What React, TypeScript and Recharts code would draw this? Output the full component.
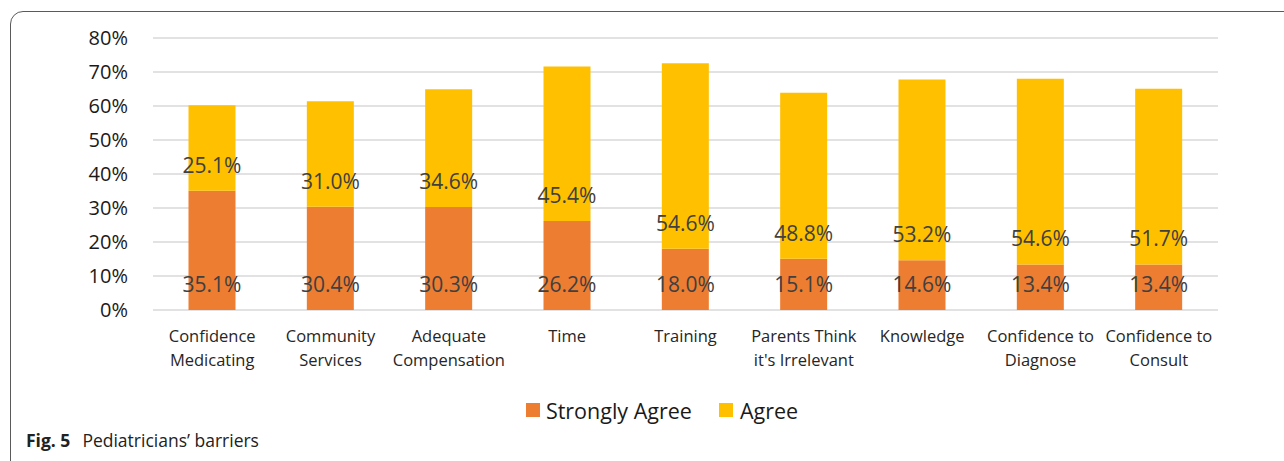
import { BarChart, Bar, XAxis, YAxis, CartesianGrid, Legend, LabelList } from "recharts";

const categories = [
  "Confidence\nMedicating",
  "Community\nServices",
  "Adequate\nCompensation",
  "Time",
  "Training",
  "Parents Think\nit's Irrelevant",
  "Knowledge",
  "Confidence to\nDiagnose",
  "Confidence to\nConsult",
];
const stronglyAgree = [35.1, 30.4, 30.3, 26.2, 18.0, 15.1, 14.6, 13.4, 13.4];
const agree = [25.1, 31.0, 34.6, 45.4, 54.6, 48.8, 53.2, 54.6, 51.7];
const yTicks = [0, 10, 20, 30, 40, 50, 60, 70, 80];

const data = categories.map((name, i) => ({
  name,
  stronglyAgree: stronglyAgree[i],
  agree: agree[i],
}));

const ORANGE = "#ED7D31";
const GOLD = "#FFC000";
const FONT = "'Open Sans', sans-serif";

const CategoryTick = (props: any) => {
  const { x, y, payload } = props;
  const lines = String(payload.value).split("\n");
  return (
    <g transform={`translate(${x},${y})`}>
      {lines.map((line, i) => (
        <text
          key={i}
          x={0}
          y={24 + i * 24}
          textAnchor="middle"
          fill="#262626"
          fontSize={16.5}
          fontFamily={FONT}
        >
          {line}
        </text>
      ))}
    </g>
  );
};

// legend centred a little right of the plot, as in the source figure
const LegendContent = () => (
  <div
    style={{
      height: 30,
      display: "flex",
      justifyContent: "center",
      alignItems: "center",
      fontFamily: FONT,
      fontSize: 21.5,
      color: "#1a1a1a",
      paddingLeft: 106,
    }}
  >
    <span style={{ width: 14, height: 14, background: ORANGE, marginRight: 6 }} />
    <span style={{ marginRight: 27 }}>Strongly Agree</span>
    <span style={{ width: 14, height: 14, background: GOLD, marginRight: 7 }} />
    <span>Agree</span>
  </div>
);

export default function App() {
  return (
    <div
      style={{
        position: "fixed",
        top: 0,
        left: 0,
        width: 1284,
        height: 461,
        overflow: "hidden",
        background: "#fff",
      }}
    >
      <div
        style={{
          position: "absolute",
          left: 10,
          top: 11,
          width: 1320,
          height: 520,
          border: "1.5px solid #5a5a5a",
          borderTopLeftRadius: 13,
        }}
      />
      <div style={{ position: "absolute", left: 0, top: 0 }}>
        <BarChart
          width={1284}
          height={461}
          data={data}
          margin={{ top: 38, right: 66, bottom: 36, left: 0 }}
          barCategoryGap="30%"
        >
          <CartesianGrid vertical={false} stroke="#d9d9d9" strokeWidth={1.5} />
          <XAxis
            dataKey="name"
            axisLine={false}
            tickLine={false}
            height={85}
            interval={0}
            tick={<CategoryTick />}
          />
          <YAxis
            width={153}
            domain={[0, 80]}
            ticks={yTicks}
            axisLine={false}
            tickLine={false}
            tickMargin={19}
            tickFormatter={(v: number) => `${v}%`}
            tick={{ fill: "#1a1a1a", fontSize: 20, fontFamily: FONT }}
          />
          <Legend verticalAlign="bottom" content={<LegendContent />} />
          <Bar dataKey="stronglyAgree" name="Strongly Agree" stackId="a" fill={ORANGE} isAnimationActive={false}>
            <LabelList
              dataKey="stronglyAgree"
              position="insideBottom"
              offset={18}
              formatter={(v: any) => `${Number(v).toFixed(1)}%`}
              fill="#404040"
              fontSize={21}
              fontFamily={FONT}
            />
          </Bar>
          <Bar dataKey="agree" name="Agree" stackId="a" fill={GOLD} isAnimationActive={false}>
            <LabelList
              dataKey="agree"
              position="insideBottom"
              offset={18}
              formatter={(v: any) => `${Number(v).toFixed(1)}%`}
              fill="#404040"
              fontSize={21}
              fontFamily={FONT}
            />
          </Bar>
        </BarChart>
      </div>
      <div
        style={{
          position: "absolute",
          left: 26,
          top: 428,
          fontFamily: "'Open Sans', sans-serif",
          fontSize: 17.5,
          color: "#222",
          whiteSpace: "nowrap",
        }}
      >
        <b>Fig. 5</b>
        <span style={{ marginLeft: 12 }}>Pediatricians’ barriers</span>
      </div>
    </div>
  );
}
